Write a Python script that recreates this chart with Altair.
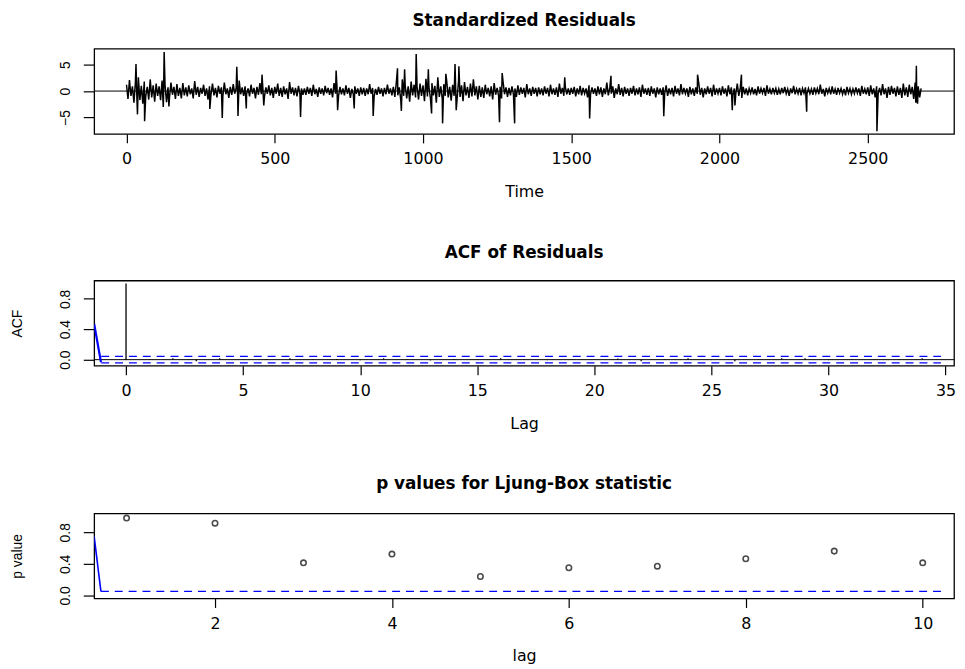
import altair as alt
import pandas as pd

# ---------------- Panel 1: standardized residuals ----------------
# Read as an envelope: upper excursions at t = 0, 10, 20, ... and lower
# excursions at t = 5, 15, 25, ... plus the isolated large spikes.
resid_upper = [
    1.2, 2.1, 0.9, 1.6, 2.6, 1.0, 1.8, 0.8, 2.2, 1.1,
    1.4, 0.9, 2.0, 1.1, 0.7, 1.6, 0.8, 1.3, 0.6, 1.5,
    0.7, 1.1, 0.5, 1.9, 0.8, 0.6, 1.2, 0.5, 0.9, 1.4,
    0.6, 1.0, 0.7, 1.6, 0.5, 0.8, 1.3, 0.6, 2.0, 0.7,
    0.9, 0.5, 1.2, 0.6, 0.8, 1.5, 0.5, 0.7, 1.1, 0.6,
    0.8, 1.4, 0.6, 0.9, 0.5, 1.7, 0.7, 0.6, 1.0, 0.5,
    0.5, 0.8, 0.6, 1.2, 0.4, 0.7, 0.5, 1.0, 0.6, 0.5,
    1.5, 0.6, 0.8, 0.5, 1.1, 0.6, 0.4, 0.9, 0.5, 0.7,
    0.6, 0.5, 1.3, 0.6, 0.4, 0.8, 0.5, 0.6, 1.2, 0.5,
    0.8, 1.6, 0.7, 2.2, 1.0, 0.9, 1.8, 1.2, 0.8, 1.4,
    1.1, 2.3, 0.8, 1.5, 1.0, 2.6, 0.9, 1.3, 1.9, 0.8,
    1.2, 0.9, 2.0, 1.1, 1.7, 0.8, 1.4, 2.2, 0.9, 1.0,
    0.7, 1.2, 0.6, 0.9, 1.5, 0.6, 0.8, 1.8, 0.7, 0.6,
    0.9, 0.5, 1.1, 0.7, 0.6, 1.3, 0.5, 0.8, 0.6, 0.7,
    0.5, 0.9, 0.6, 1.2, 0.5, 0.7, 1.4, 0.6, 0.8, 0.5,
    0.6, 0.8, 0.5, 1.0, 0.6, 0.5, 1.1, 0.7, 0.5, 0.9,
    0.7, 0.5, 1.6, 0.6, 0.9, 0.5, 1.3, 0.6, 0.8, 0.5,
    0.6, 1.0, 0.5, 0.7, 1.2, 0.5, 0.6, 0.9, 0.5, 0.7,
    0.5, 0.7, 1.1, 0.5, 0.6, 1.0, 0.5, 1.3, 0.6, 0.5,
    0.8, 0.5, 0.7, 1.5, 0.6, 0.5, 0.9, 0.6, 1.2, 0.5,
    0.6, 0.9, 0.5, 1.1, 0.7, 0.5, 1.4, 0.6, 0.8, 0.5,
    0.5, 0.7, 0.4, 0.9, 0.5, 0.6, 1.1, 0.4, 0.6, 0.5,
    0.4, 0.6, 0.8, 0.4, 0.5, 1.0, 0.4, 0.6, 0.5, 0.7,
    0.5, 0.4, 0.7, 0.5, 1.2, 0.4, 0.6, 0.5, 0.9, 0.4,
    0.6, 0.5, 0.4, 0.8, 0.5, 0.4, 0.7, 0.5, 1.0, 0.4,
    0.7, 1.1, 0.5, 0.9, 0.6, 1.3, 0.5, 0.8, 1.0, 0.6,
    0.9, 0.6, 1.4, 0.7, 1.2, 0.8, 1.6, 0.9, 0.5,
]
resid_lower = [
    -1.5, -0.9, -2.2, -1.1, -1.7, -2.4, -0.9, -1.6, -1.2, -2.0,
    -0.9, -1.7, -0.8, -2.1, -1.2, -0.7, -1.5, -0.9, -1.4, -0.8,
    -1.0, -0.6, -1.4, -0.7, -1.1, -0.5, -0.9, -1.6, -0.6, -0.8,
    -1.2, -0.5, -0.9, -0.6, -1.3, -0.7, -0.5, -1.1, -0.6, -0.9,
    -0.6, -1.0, -0.5, -1.4, -0.7, -0.6, -1.2, -0.5, -0.8, -1.3,
    -0.5, -0.9, -1.1, -0.6, -1.5, -0.5, -0.8, -1.0, -0.6, -0.7,
    -0.7, -0.5, -0.9, -0.6, -1.1, -0.5, -0.8, -0.4, -0.7, -1.2,
    -0.5, -1.0, -0.6, -0.8, -0.5, -1.3, -0.6, -0.5, -0.9, -0.6,
    -0.9, -0.6, -0.5, -1.1, -0.7, -0.5, -1.0, -0.6, -0.5, -0.8,
    -1.1, -0.8, -1.7, -0.9, -1.4, -2.0, -0.8, -1.2, -1.6, -0.9,
    -1.9, -1.0, -1.3, -0.8, -2.2, -1.1, -1.5, -0.9, -1.2, -1.8,
    -0.9, -1.5, -1.1, -1.9, -0.8, -1.3, -1.0, -0.8, -1.6, -1.1,
    -1.3, -0.6, -1.0, -1.6, -0.7, -0.9, -1.4, -0.6, -1.1, -0.8,
    -0.6, -1.1, -0.7, -0.5, -1.2, -0.6, -0.9, -0.5, -1.0, -0.6,
    -0.8, -0.5, -1.0, -0.6, -0.7, -1.1, -0.5, -0.9, -0.6, -0.7,
    -0.5, -1.0, -0.6, -0.8, -0.5, -1.2, -0.6, -0.5, -0.9, -0.6,
    -1.1, -0.6, -0.8, -0.5, -1.3, -0.6, -0.7, -1.0, -0.5, -0.9,
    -0.5, -0.8, -0.6, -1.1, -0.5, -0.7, -0.9, -0.5, -1.2, -0.6,
    -0.7, -0.5, -0.9, -0.6, -1.0, -0.5, -0.8, -0.6, -0.5, -1.1,
    -0.6, -0.9, -0.5, -0.7, -1.2, -0.6, -0.5, -1.0, -0.7, -0.5,
    -0.8, -0.5, -1.0, -0.6, -0.7, -0.5, -0.9, -1.3, -0.6, -0.8,
    -0.4, -0.6, -0.8, -0.5, -0.4, -0.9, -0.5, -0.6, -0.4, -0.7,
    -0.6, -0.4, -0.5, -0.9, -0.4, -0.6, -0.5, -0.8, -0.4, -0.5,
    -0.5, -0.7, -0.4, -0.6, -0.5, -1.0, -0.4, -0.6, -0.5, -0.7,
    -0.4, -0.6, -0.8, -0.4, -0.6, -0.5, -0.4, -0.9, -0.5, -0.6,
    -0.9, -0.6, -1.2, -0.5, -0.8, -0.6, -1.3, -0.7, -0.5, -1.0,
    -0.7, -1.3, -0.8, -1.1, -0.6, -1.5, -0.9, -1.2,
]
spike_time = [32, 37, 61, 124, 127, 143, 281, 323, 372, 376, 404, 457, 463, 587,
              707, 712, 768, 832, 914, 927, 938, 977, 1018, 1029, 1066, 1077,
              1108, 1112, 1121, 1258, 1267, 1309, 1478, 1562, 1634, 1812, 1926,
              2043, 2052, 2074, 2294, 2531, 2662, 2664, 2668]
spike_value = [5.1, -4.4, -5.7, -3.0, 7.4, -2.9, -3.4, -5.1, 4.6, -4.7, -3.3, 3.1, -2.7, -4.9,
               3.9, -3.6, -3.3, -4.7, 4.3, -3.75, 4.1, 7.0, 4.1, -4.25, -6.1, 3.25,
               5.1, -3.6, 4.7, -5.9, 3.4, -6.1, 2.6, -5.2, 2.9, -4.75, 3.1,
               -3.6, -2.7, 3.1, -3.9, -7.6, -2.2, 4.8, -2.4]
time_ticks = [0, 500, 1000, 1500, 2000, 2500]

# ---------------- Panel 2: ACF of residuals ----------------
acf_lag = list(range(35))
acf_val = [1.0, 0.006, 0.02, -0.02, 0.02, -0.006, 0.008, 0.02, -0.005, 0.007,
           -0.008, 0.018, 0.006, -0.01, 0.007, -0.006, 0.018, 0.005, -0.007, 0.006,
           -0.005, 0.016, -0.02, 0.006, 0.02, -0.006, -0.02, 0.005, 0.02, 0.018,
           -0.006, 0.007, -0.005, 0.006, 0.02]
acf_clim = 0.042
acf_ticks = [0, 5, 10, 15, 20, 25, 30, 35]

# ---------------- Panel 3: Ljung-Box p values ----------------
lb_lag = [1, 2, 3, 4, 5, 6, 7, 8, 9, 10]
lb_p = [0.98, 0.915, 0.413, 0.523, 0.239, 0.35, 0.37, 0.464, 0.561, 0.413]
lb_level = 0.05
lb_ticks = [2, 4, 6, 8, 10]

# blue segments seen at the left edge of panels 2 and 3
acf_blue_x = [-1.36, -1.07]
acf_blue_y = [0.47, -0.035]
lb_blue_x = [0.634, 0.71]
lb_blue_y = [0.745, 0.05]
acf_dash_x = [-1.06, 34.8]
lb_dash_x = [0.71, 10.22]

W = 868
H = 86
BLUE = "#0000ff"
XFONT = "DejaVu Sans"
YFONT = "Liberation Sans"
TOFF = 6

def xaxis(values, title):
    return alt.Axis(values=values, title=title, tickSize=9, labelPadding=8,
                    labelFont=XFONT, labelFontSize=16, titleFont=XFONT,
                    titleFontSize=16, titleFontWeight="normal", titlePadding=17,
                    format="d", labelFlush=False)

def yaxis(values, title, expr=None):
    kw = dict(values=values, tickSize=11, labelPadding=11, labelAngle=270,
              labelAlign="center", labelBaseline="bottom", labelFont=YFONT,
              labelFontSize=14, labelFlush=False)
    if expr is not None:
        kw["labelExpr"] = expr
    if title is not None:
        kw.update(title=title, titleFont=YFONT, titleFontSize=14,
                  titleFontWeight="normal", titleX=-77, titleY=H / 2,
                  titleAngle=270, titleAlign="center", titleBaseline="middle")
    else:
        kw["title"] = None
    return alt.Axis(**kw)

# ---- panel 1
t_up = [i * 10 for i in range(len(resid_upper))]
t_lo = [i * 10 + 5 for i in range(len(resid_lower))]
df1 = pd.DataFrame({
    "time": t_up + t_lo + spike_time,
    "resid": resid_upper + resid_lower + spike_value,
}).sort_values("time")

x1 = alt.Scale(domain=[-109, 2791], nice=False, zero=False)
y1 = alt.Scale(domain=[-8.1, 8.0], nice=False, zero=False)
line1 = alt.Chart(df1).mark_line(color="black", strokeWidth=1.5).encode(
    x=alt.X("time:Q", scale=x1, axis=xaxis(time_ticks, "Time")),
    y=alt.Y("resid:Q", scale=y1, axis=yaxis([-5, 0, 5], None)),
    order="time:Q",
)
zero1 = alt.Chart(pd.DataFrame({"z": [0]})).mark_rule(color="black", strokeWidth=1).encode(
    y=alt.Y("z:Q", scale=y1))
p1 = alt.layer(zero1, line1).properties(
    width=W, height=H,
    title=alt.TitleParams("Standardized Residuals", offset=TOFF, baseline="alphabetic"))

# ---- panel 2
lab_expr = "(abs(datum.value) < 1e-6 || abs(datum.value - 0.4) < 1e-6 || abs(datum.value - 0.8) < 1e-6) ? format(datum.value, '.1f') : ''"
x2 = alt.Scale(domain=[-1.36, 35.36], nice=False, zero=False)
y2 = alt.Scale(domain=[-0.08, 1.04], nice=False, zero=False)
df2 = pd.DataFrame({"lag": acf_lag, "acf": acf_val, "base": [0] * len(acf_lag)})
bars2 = alt.Chart(df2).mark_rule(color="black", strokeWidth=1.3).encode(
    x=alt.X("lag:Q", scale=x2, axis=xaxis(acf_ticks, "Lag")),
    y=alt.Y("acf:Q", scale=y2, axis=yaxis([0, 0.2, 0.4, 0.6, 0.8, 1.0], "ACF", lab_expr)),
    y2="base:Q",
)
zero2 = alt.Chart(pd.DataFrame({"z": [0]})).mark_rule(color="black", strokeWidth=1).encode(
    y=alt.Y("z:Q", scale=y2))
dash2 = alt.Chart(pd.DataFrame({
    "x0": [acf_dash_x[0]] * 2, "x1": [acf_dash_x[1]] * 2, "y": [acf_clim, -acf_clim]
})).mark_rule(color=BLUE, strokeDash=[8, 6], strokeWidth=1.3).encode(
    x=alt.X("x0:Q", scale=x2), x2="x1:Q", y=alt.Y("y:Q", scale=y2))
blue2 = alt.Chart(pd.DataFrame({"x": acf_blue_x, "y": acf_blue_y})).mark_line(
    color=BLUE, strokeWidth=2.2, clip=True).encode(
    x=alt.X("x:Q", scale=x2), y=alt.Y("y:Q", scale=y2))
p2 = alt.layer(zero2, dash2, blue2, bars2).properties(
    width=W, height=H,
    title=alt.TitleParams("ACF of Residuals", offset=TOFF, baseline="alphabetic"))

# ---- panel 3
x3 = alt.Scale(domain=[0.634, 10.354], nice=False, zero=False)
y3 = alt.Scale(domain=[-0.04, 1.04], nice=False, zero=False)
df3 = pd.DataFrame({"lag": lb_lag, "p": lb_p})
pts3 = alt.Chart(df3).mark_point(shape="circle", filled=False, color="black",
                                 size=30, strokeWidth=1.6).encode(
    x=alt.X("lag:Q", scale=x3, axis=xaxis(lb_ticks, "lag")),
    y=alt.Y("p:Q", scale=y3, axis=yaxis([0, 0.2, 0.4, 0.6, 0.8, 1.0], "p value", lab_expr)),
)
dash3 = alt.Chart(pd.DataFrame({
    "x0": [lb_dash_x[0]], "x1": [lb_dash_x[1]], "y": [lb_level]
})).mark_rule(color=BLUE, strokeDash=[8, 6], strokeWidth=1.3).encode(
    x=alt.X("x0:Q", scale=x3), x2="x1:Q", y=alt.Y("y:Q", scale=y3))
blue3 = alt.Chart(pd.DataFrame({"x": lb_blue_x, "y": lb_blue_y})).mark_line(
    color=BLUE, strokeWidth=1.6, clip=True).encode(
    x=alt.X("x:Q", scale=x3), y=alt.Y("y:Q", scale=y3))
p3 = alt.layer(dash3, blue3, pts3).properties(
    width=W, height=H,
    title=alt.TitleParams("p values for Ljung-Box statistic", offset=TOFF, baseline="alphabetic"))

chart = alt.vconcat(p1, p2, p3, spacing=43).properties(
    padding={"left": 2, "top": 0, "right": 0, "bottom": 0}
).configure_view(
    stroke="black", strokeWidth=1.3
).configure_axis(
    grid=False, domain=False, tickColor="black", tickWidth=1.2,
    labelColor="black", titleColor="black"
).configure_title(
    font="DejaVu Sans", fontSize=17, fontWeight="bold", color="black", anchor="middle"
)

chart.save("out.html", embed_options={"renderer": "svg", "actions": False})
